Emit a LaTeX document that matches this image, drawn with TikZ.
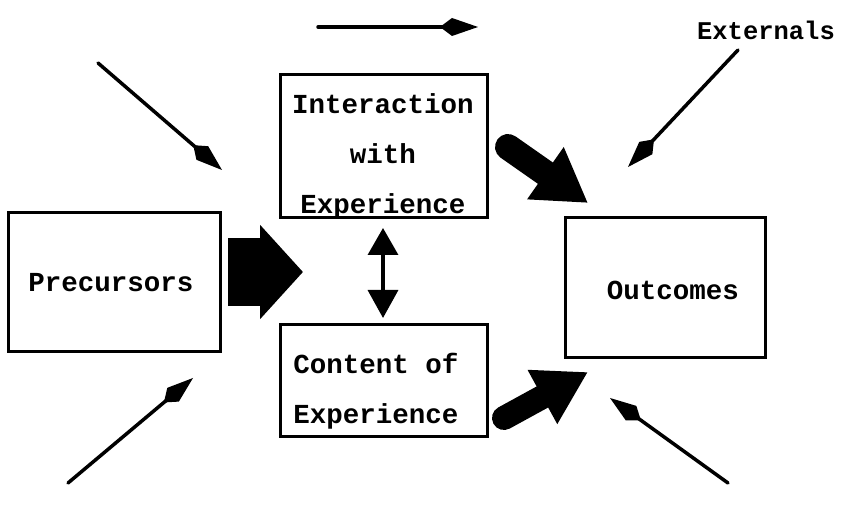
\documentclass[tikz,border=0pt]{standalone}
\usepackage{fontspec}
\setmonofont{Liberation Mono}
\usetikzlibrary{arrows.meta}
\begin{document}
\begin{tikzpicture}[x=1pt,y=-1pt,
  box/.style={draw, line width=3pt, inner sep=0pt},
  lbl/.style={font=\ttfamily\bfseries\fontsize{27.5}{50}\selectfont, align=center, inner sep=0pt},
  thinarrow/.style={line width=3.5pt, line cap=round,
    -{Kite[length=38pt,width=18pt,inset=12pt]}}]
\useasboundingbox (0,0) rectangle (841,510);

% boxes
\node[box, minimum width=212pt, minimum height=139pt] (pre) at (114,282.5) {};
\node[lbl] (preT) at (111,283) {Precursors};
\node[box, minimum width=207pt, minimum height=143pt] (inter) at (383.5,146.5) {};
\node[lbl] (interT) at (383,156) {Interaction\\with\\Experience};
\node[box, minimum width=207pt, minimum height=112pt] (cont) at (383.5,381) {};
\node[lbl] (contT) at (376,391) {Content of\\Experience};
\node[box, minimum width=200pt, minimum height=140pt] (out) at (665,288) {};
\node[lbl] (outT) at (673,290) {Outcomes};
\node[font=\ttfamily\bfseries\fontsize{25.5}{30}\selectfont, inner sep=0pt] (ext) at (766,30) {Externals};

% free ends of the thin arrows
\coordinate (t1) at (318,27);   \coordinate (t2) at (478,27);
\coordinate (ul1) at (98,63);   \coordinate (ul2) at (222,170);
\coordinate (ex1) at (738,50);  \coordinate (ex2) at (628,167);
\coordinate (ll1) at (68,483);  \coordinate (ll2) at (193,378);
\coordinate (lr1) at (728,483); \coordinate (lr2) at (610,398);

\draw[thinarrow] (t1) -- (t2);
\draw[thinarrow] (ul1) -- (ul2);
\draw[thinarrow] (ex1) -- (ex2);
\draw[thinarrow] (ll1) -- (ll2);
\draw[thinarrow] (lr1) -- (lr2);

% heavy arrows
\coordinate (f1) at (228,272);  \coordinate (f2) at (303,272);
\draw[line width=68pt, -{Triangle[length=43pt,width=92pt]}] (f1) -- (f2);

\coordinate (d1) at (508,147);  \coordinate (d2) at (588,203);
\draw[line width=26pt, line cap=round, -{Triangle[length=52pt,width=60pt]}] (d1) -- (d2);

\coordinate (e1) at (504,418);  \coordinate (e2) at (588,372);
\draw[line width=24pt, line cap=round, -{Triangle[length=52pt,width=58pt]}] (e1) -- (e2);

% two-way arrow between the middle boxes
\coordinate (v1) at (383,228);  \coordinate (v2) at (383,318);
\draw[line width=3.5pt, {Triangle[length=27pt,width=30pt]}-{Triangle[length=28pt,width=30pt]}] (v1) -- (v2);
\end{tikzpicture}
\end{document}
